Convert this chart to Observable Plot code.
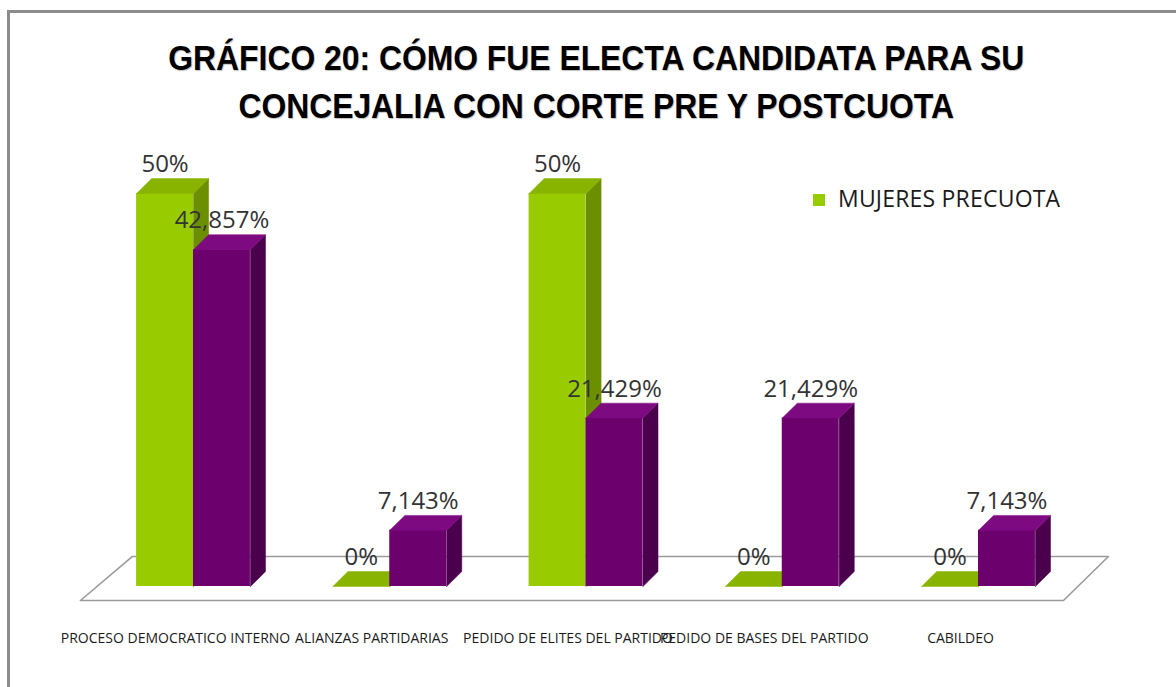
<!DOCTYPE html>
<html>
<head>
<meta charset="utf-8">
<script src="https://cdn.jsdelivr.net/npm/d3@7"></script>
<script src="https://cdn.jsdelivr.net/npm/@observablehq/plot@0.6"></script>
<style>
  body { margin: 0; background: #fff; }
  #wrap { position: relative; width: 1176px; height: 687px; overflow: hidden; background: #fff; }
  #frame { position: absolute; left: 7px; top: 10px; width: 1169px; height: 677px;
           border-top: 3px solid #8c8c8c; border-left: 3px solid #8c8c8c; box-sizing: border-box; pointer-events: none; }
  #title { height: 140px; box-sizing: border-box; padding-top: 34px; padding-left: 16px; text-align: center;
           font-family: "Liberation Sans", Arial, sans-serif; font-weight: bold;
           font-size: 35px; line-height: 48px; color: #000; text-shadow: 1px 1px 1px rgba(0,0,0,0.25); }
  #title span { display: inline-block; transform: scaleX(0.91); transform-origin: 50% 50%; white-space: nowrap; }
  #legend { position: absolute; left: 813px; top: 187px; font-family: "Open Sans", sans-serif; font-size: 23px;
            line-height: 23px; color: #1a1a1a; white-space: nowrap; }
  #legend .sw { position: absolute; left: 0; top: 7px; width: 12px; height: 12px; background: #99cc00; }
  #legend .lb { position: absolute; left: 25px; top: 0; letter-spacing: 0.2px; }
</style>
</head>
<body>
<div id="wrap">
  <div id="title"><div><span>GRÁFICO 20: CÓMO FUE ELECTA CANDIDATA PARA SU</span></div><div><span>CONCEJALIA CON CORTE PRE Y POSTCUOTA</span></div></div>
  <div id="chart"></div>
  <div id="legend"><span class="sw"></span><span class="lb"></span></div>
  <div id="frame"></div>
</div>
<script>
const categories = ["PROCESO DEMOCRATICO INTERNO", "ALIANZAS PARTIDARIAS", "PEDIDO DE ELITES DEL PARTIDO", "PEDIDO DE BASES DEL PARTIDO", "CABILDEO"];
const precuota = [50, 0, 50, 0, 0];
const postcuota = [42.857, 7.143, 21.429, 21.429, 7.143];
const seriesNames = ["MUJERES PRECUOTA", "MUJERES POSTCUOTA"];

const palette = [
  {front: "#99cc00", top: "#88b400", side: "#6c8f00"},
  {front: "#6c006d", top: "#7e0a82", side: "#4b004d"}
];

document.querySelector("#legend .lb").textContent = seriesNames[0];

const BW = 0.29;      // bar width in x units
const DX = 0.077;     // depth offset in x units
const DY = 1.9;       // depth offset in y units

const seriesValues = [precuota, postcuota];
const bars = [];
seriesValues.forEach((vals, s) => {
  vals.forEach((v, i) => {
    const xL = s === 0 ? i - BW : i;
    bars.push({i, s, v, xL, xR: xL + BW, id: s + "-" + i});
  });
});

function topFace(b) {
  return [[b.xL, b.v], [b.xR, b.v], [b.xR + DX, b.v + DY], [b.xL + DX, b.v + DY], [b.xL, b.v]]
    .map(([x, y]) => ({id: b.id, x, y}));
}
function sideFace(b) {
  return [[b.xR, 0], [b.xR, b.v], [b.xR + DX, b.v + DY], [b.xR + DX, DY], [b.xR, 0]]
    .map(([x, y]) => ({id: b.id, x, y}));
}

const floor = [
  {x: -0.576, y: -1.78}, {x: 4.433, y: -1.78}, {x: 4.662, y: 3.82}, {x: -0.311, y: 3.82}, {x: -0.576, y: -1.78}
];

const fmt = v => String(v).replace(".", ",") + "%";

const marks = [Plot.line(floor, {x: "x", y: "y", stroke: "#9a9a9a", strokeWidth: 1.6})];
[0, 1].forEach(s => {
  const bs = bars.filter(b => b.s === s);
  const c = palette[s];
  marks.push(Plot.rect(bs.filter(b => b.v > 0), {x1: "xL", x2: "xR", y1: () => 0, y2: "v", fill: c.front}));
  marks.push(Plot.line(bs.flatMap(sideFace), {x: "x", y: "y", z: "id", fill: c.side, stroke: c.side, strokeWidth: 0.5}));
  marks.push(Plot.line(bs.flatMap(topFace), {x: "x", y: "y", z: "id", fill: c.top, stroke: c.top, strokeWidth: 0.5}));
});
marks.push(Plot.text(bars, {
  x: b => (b.xL + b.xR) / 2, y: "v", text: b => fmt(b.v), dy: -29,
  fontSize: 24, fontFamily: "Open Sans, sans-serif", fill: "#333", lineAnchor: "middle"
}));
marks.push(Plot.text(categories, {
  x: (d, i) => i, y: () => 0, text: d => d, dy: 52, dx: -18,
  fontSize: 14, fontFamily: "Open Sans, sans-serif", fill: "#1a1a1a", lineAnchor: "middle"
}));

const chart = Plot.plot({
  width: 1176, height: 547,
  marginLeft: 193, marginRight: 198, marginTop: 53, marginBottom: 101,
  x: {domain: [0, 4], axis: null},
  y: {domain: [0, 50], axis: null},
  style: {background: "transparent", overflow: "visible"},
  marks
});
document.getElementById("chart").appendChild(chart);
</script>
</body>
</html>
